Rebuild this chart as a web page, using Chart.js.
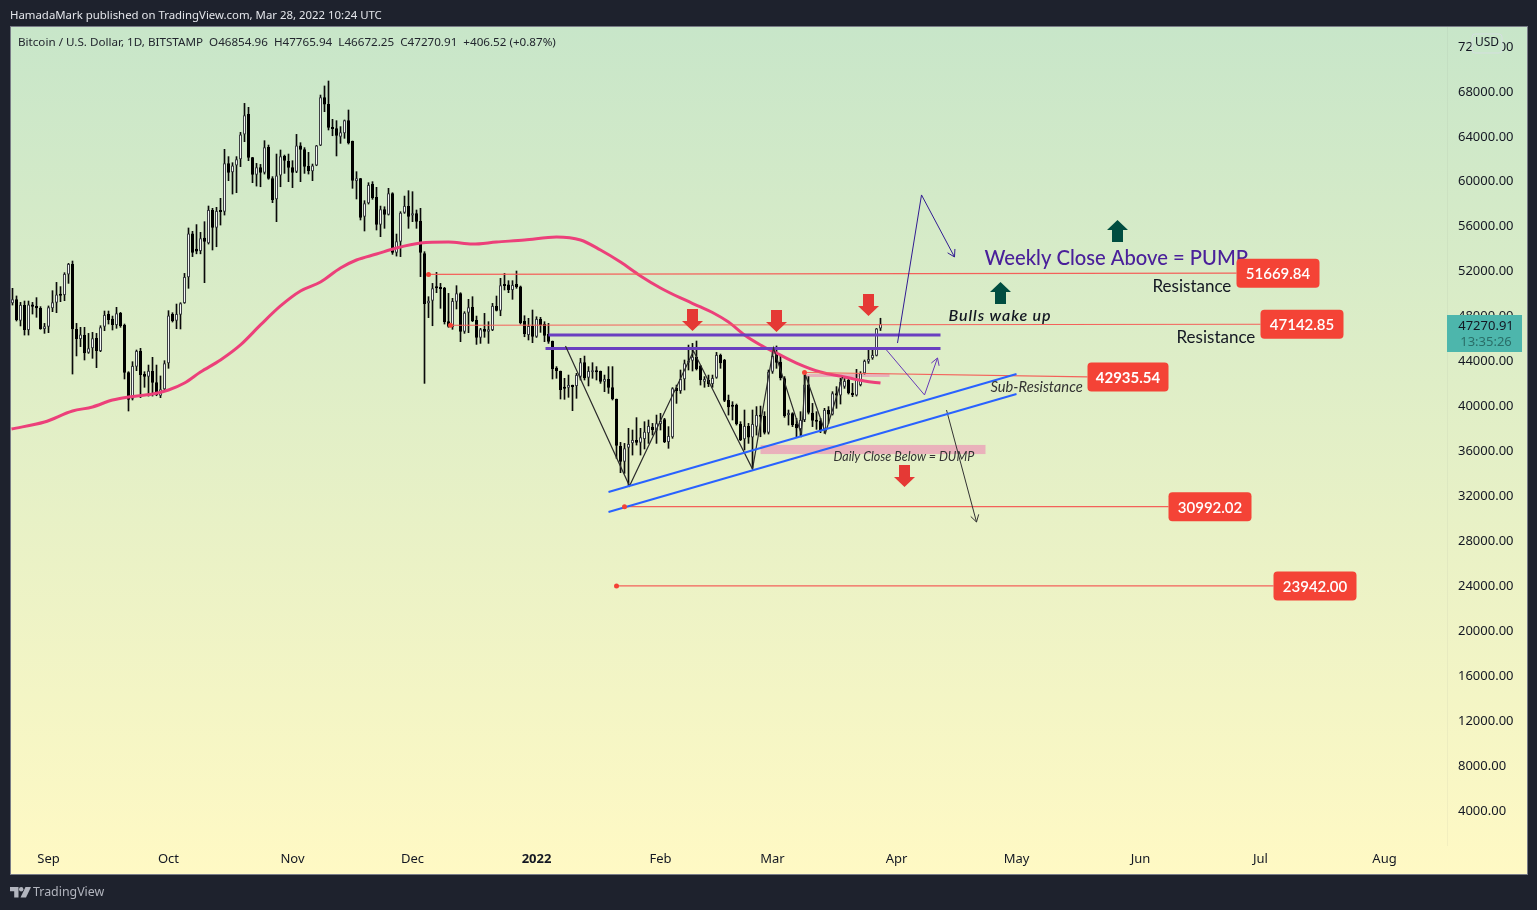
<!DOCTYPE html>
<html>
<head>
<meta charset="utf-8">
<title>BTCUSD</title>
<script src="https://cdn.jsdelivr.net/npm/chart.js@4"></script>
<style>
  html, body { margin: 0; padding: 0; background: #1e222d; }
  #wrap { position: relative; width: 1537px; height: 910px; overflow: hidden; }
  canvas { position: absolute; left: 0; top: 0; }
  .txt { position: absolute; white-space: pre; font-family: "Noto Sans", sans-serif; }
  #published { left: 10px; top: 7px; font-size: 11.4px; color: #e3e5ea; }
  #legend { left: 18px; top: 34px; font-size: 11.65px; color: #22262e; }
  #brand { left: 33px; top: 883px; font-size: 12.4px; color: #b2b5be; }
  #logo { position: absolute; left: 10px; top: 887px; }
</style>
</head>
<body>
<div id="wrap">
  <canvas id="btcChart" width="1537" height="910"></canvas>
  <div class="txt" id="published">HamadaMark published on TradingView.com, Mar 28, 2022 10:24 UTC</div>
  <div class="txt" id="legend">Bitcoin / U.S. Dollar, 1D, BITSTAMP  O46854.96  H47765.94  L46672.25  C47270.91  +406.52 (+0.87%)</div>
  <svg id="logo" width="21" height="11" viewBox="0 0 21 11"><path fill="#b2b5be" d="M0 0h8.5v10.5H4.2V4.2H0z"/><circle fill="#b2b5be" cx="11.2" cy="2.2" r="2.2"/><path fill="#b2b5be" d="M15.5 0H21l-5 10.5h-5.5z"/></svg>
  <div class="txt" id="brand">TradingView</div>
</div>
<script>
// daily candles, first one is Aug 23 2021 (day 0 = Sep 1 2021)
const firstDay = -9;

const opens = [
  49090,49450,47550,48940,46720,49000,48860,48680,46810,47020,
  48650,49150,49920,49830,51670,52590,46810,45920,46270,44700,
  45090,46010,44850,47020,48140,47730,47160,48230,47160,42950,
  40610,43460,44850,42800,42560,43070,42060,40870,41440,43750,
  48140,47550,48080,49120,51410,55300,53950,53750,54940,54430,
  57400,55830,57280,57250,61550,60750,61350,61910,64130,65940,
  62090,60540,61200,60720,63000,60220,58350,60480,62200,61760,
  61200,60810,63150,62800,61310,60840,61370,63150,67430,66830,
  64760,64670,63930,64220,65380,63540,59980,60220,56810,57990,
  59710,58560,56090,57460,56980,58880,53600,54580,57160,57755,
  56900,57100,56420,53540,49090,49330,50520,50520,50460,47490,
  46960,49240,49980,46570,48260,48770,47610,46040,46810,46570,
  46720,48860,48440,50700,50780,50280,50810,50600,47520,46270,
  47070,46120,47700,47250,46360,45740,43370,43070,41620,41590,
  41760,41740,42570,43840,42480,42950,43070,43070,42120,42360,
  41620,40580,36390,35000,36250,36630,36930,36690,37020,37520,
  38120,37760,38350,38770,36750,37170,41590,41290,42330,43810,
  43990,44350,43550,42120,42270,41910,42480,44490,44050,40490,
  40040,40040,38350,36990,38170,37160,38120,39150,39060,37580,
  43010,44490,43900,42420,39150,39300,38350,37910,38710,41880,
  39360,38710,38650,37760,39600,39210,41080,40880,41680,42270,
  41140,40900,41820,42860,43900,44200,44430,46854.96
];
const highs = [
  50430,49750,49180,49300,49300,49180,49600,48800,47310,48860,
  50220,50960,50580,51820,52650,52860,47310,46960,46960,46420,
  46510,46420,47100,48410,48410,47960,48740,48290,47250,43010,
  43900,44940,45090,43010,43600,44290,43600,42630,43990,48440,
  48260,49030,49150,51760,55800,55500,56100,55410,56360,57755,
  57550,57640,58440,62800,62150,61610,62150,64310,66890,66540,
  62090,61550,61460,63570,63180,60370,62380,62740,62290,62380,
  61790,64130,63390,62950,62530,61490,63150,67630,68440,68880,
  65470,65350,64820,65410,66300,63540,60810,60220,58230,59830,
  59920,59420,57750,57690,59330,58940,55260,57250,58640,59120,
  59030,57400,57550,53690,49685,50870,51850,50870,50520,49980,
  49540,50665,50040,48350,49450,49685,47960,46870,48200,47460,
  49090,49745,51320,51760,51110,51110,51970,50635,47990,47760,
  48500,47900,47850,47460,47310,45740,43460,43070,42420,42710,
  41820,42860,44200,44400,43460,43810,43460,43070,42710,43460,
  43460,40580,36720,36630,37970,37820,38920,37970,38560,38710,
  38410,39150,39300,38860,38120,41590,41820,43160,44050,45380,
  45530,45740,43550,42570,42710,42710,44730,44580,44110,40930,
  40340,40130,38560,39600,38410,39600,39900,39950,39450,43160,
  45090,45300,44490,42570,39600,39360,38860,39450,42710,42570,
  40190,39450,38860,39750,39900,41230,41680,42420,42570,42480,
  41970,43220,43010,44050,45030,44990,46860,47765.94
];
const lows = [
  48940,47520,47080,46270,46270,48140,47850,46780,46420,46480,
  48350,48260,49240,49330,50870,42800,44410,45240,44050,44640,
  44200,43370,44790,46660,47250,46720,46870,46960,42360,39510,
  40490,43100,40700,41620,40840,40840,40870,40700,41380,43310,
  47430,46840,46810,49090,50430,53250,53500,53500,50930,54370,
  53840,54130,56060,56950,60010,58820,58940,61260,63480,61790,
  59830,59530,59470,60600,60130,58050,56360,59470,60660,59920,
  59390,60720,59920,60660,60600,60010,61340,63130,66150,64520,
  64010,62210,63330,63780,63270,59330,58380,56510,55530,57930,
  58350,55620,55025,55770,56950,53450,53300,53250,57100,55770,
  56360,55770,51470,41970,47820,47100,50040,48650,47250,46960,
  46780,48590,45680,46420,46480,47460,45440,45530,46070,45530,
  46660,48410,47990,50280,50040,49450,50430,47250,46120,45830,
  45590,46060,46510,45680,45530,42360,42420,40580,40550,40730,
  39540,40640,42270,42270,41740,42420,42270,41970,41230,41080,
  40490,35300,34020,33960,32860,35590,36480,35590,36130,36630,
  37370,36630,37820,36690,36190,37080,40190,41080,41380,43160,
  43070,43160,41820,41620,41680,41620,42420,43310,40340,39150,
  38710,38260,36870,36040,36630,34410,37370,37220,37460,37460,
  42860,43310,42270,38950,38260,38120,37220,37220,38560,39240,
  38120,37880,37580,37520,38410,39150,39750,40130,41530,41020,
  40790,40840,41740,42800,43750,44110,44410,46672.25
];
const closes = [
  49450,47610,48940,46720,49000,48800,48650,46810,47050,48740,
  49180,49890,49770,51700,52590,46780,45920,46330,44640,45090,
  45980,44850,46960,48050,47610,47160,48200,47080,42920,40520,
  43520,44850,42710,42560,43100,42030,40930,41440,43750,48020,
  47520,48140,49090,51440,55300,53600,53700,54880,54580,57400,
  55830,57310,57220,61550,60720,61350,61910,64130,65830,62060,
  60540,61200,60720,62980,60190,58290,60480,62180,61790,61170,
  60720,63150,62770,61260,60870,61370,63150,67430,66800,64730,
  64610,64010,64310,65380,63330,60010,60220,56720,57990,59620,
  58470,56090,57460,56980,58880,53600,54610,57160,57755,56810,
  57100,56360,53600,49030,49330,50430,50430,50370,47430,47015,
  49300,49980,46570,48260,48740,47520,46040,46780,46570,46780,
  48860,48440,50700,50635,50280,50720,50520,47340,46360,47070,
  46120,47700,47160,46210,45680,43250,43070,41380,41500,41820,
  41650,42710,43840,42420,43070,43070,42950,42120,42360,41590,
  40580,36420,35000,36190,36570,36930,36690,37170,37670,38170,
  37820,38410,38650,36750,37280,41530,41290,42360,43750,43990,
  44350,43250,42270,42360,41910,42450,44490,43750,40430,39840,
  39900,38350,36930,38170,37160,38350,39150,39000,37580,43010,
  44410,43810,42420,39060,39300,38260,37970,38710,41880,39360,
  38650,38560,37760,39600,39210,41080,40880,42120,42180,41080,
  40930,42360,42860,43960,44140,44490,46860,47270.91
];

// moving average
const maDays = [-9.25,-1,6,11,16,20,26,30,34,38,43,48,53,58,63,68,73,77,82,87,93,100,106,112,119,127,133,138,143,148,153,158,163,166,170,174,178,182,187,193,199,204,208];
const maValues = [37910,38530,39510,39870,40490,40760,41020,41380,42000,42980,44050,45390,47170,48860,50190,50990,52240,52950,53480,54020,54460,54550,54370,54550,54730,55000,54730,53840,52770,51530,50460,49570,48770,48280,47430,46280,45390,44670,43780,42980,42540,42180,42000];

// axes
const priceTicks = [4000,8000,12000,16000,20000,24000,28000,32000,36000,40000,44000,48000,52000,56000,60000,64000,68000,72000];
const monthDays = [0,30,61,91,122,153,181,212,242,273,303,334];
const monthLabels = ['Sep','Oct','Nov','Dec','2022','Feb','Mar','Apr','May','Jun','Jul','Aug'];

// horizontal levels
const levelPrices = [51669.84,47142.85,42935.54,30992.02,23942.00];
const levelStartDays = [95,100.5,189,144,142];
const levelEndDays = [297,303,259.75,280,306.25];
const levelEndPrices = [51780,47230,42540,30992,23942];

// hand drawn lines
const purpleDays = [125,223];
const purpleUpper = 46275;
const purpleLowerDays = [124.25,223];
const purpleLower = 45070;
const blueDays = [140,242];
const blueUpper = [32300,42800];
const blueLower = [30520,41020];
const zigzagDays = [129.25,145.25,161.25,176,181.25,188.25,189.25,194.25,198.5];
const zigzagPrices = [45300,32840,44850,34350,45120,37380,42720,37550,42540];
const pumpDays = [212.25,218.25,226.5];
const pumpPrices = [45560,58740,53220];
const retestDays = [209.5,219,222.25];
const retestPrices = [44940,40940,44230];
const dumpDays = [224.5,232];
const dumpPrices = [39600,29630];

// shaded zones: day from, day to, price low, price high
const zoneDaysFrom = [178,189.5];
const zoneDaysTo = [234.25,210.25];
const zoneLows = [35680,42540];
const zoneHighs = [36490,42800];

// block arrows
const redArrowDays = [161,182,205,214];
const redArrowTips = [46630,46540,47970,32750];
const greenArrowDays = [267.25,238];
const greenArrowTips = [56510,50990];

// text notes
const noteTexts = ['Weekly Close Above = PUMP','Resistance','Resistance','Bulls wake up','Sub-Resistance','Daily Close Below = DUMP'];
const noteDays = [234,276,282,225,235.5,196.25];
const notePrices = [53050,50550,46010,47970,41600,35420];
const noteFonts = ['500 20.2px Lato','17px Lato','17px Lato','italic 600 16px Lato','italic 14.7px Lato','italic 12.5px Lato'];
const noteSpacing = ['0px','0px','0px','0.9px','0px','0px'];
const noteColors = ['#4a209a','#131722','#131722','#131722','#333','#333'];

const lastPrice = '47270.91';
const countdown = '13:35:26';

const candleDays = opens.map((o, i) => firstDay + i);

function lineSet(days, prices, color, width, order) {
    return {
        type: 'line',
        data: days.map((d, i) => ({ x: d, y: prices[i] })),
        borderColor: color,
        borderWidth: width,
        pointRadius: 0,
        tension: 0,
        order: order
    };
}

const wickSet = {
    type: 'bar',
    data: candleDays.map((d, i) => ({ x: d, y: [lows[i], highs[i]] })),
    backgroundColor: '#0a0a0a',
    barThickness: 1,
    grouped: false,
    order: 11
};
const bodySet = {
    type: 'bar',
    data: candleDays.map((d, i) => ({ x: d, y: [Math.min(opens[i], closes[i]), Math.max(opens[i], closes[i])] })),
    backgroundColor: candleDays.map((d, i) => closes[i] >= opens[i] ? '#f4f6f4' : '#000'),
    borderColor: candleDays.map((d, i) => closes[i] >= opens[i] ? '#3c3f44' : '#000'),
    borderWidth: 1,
    borderSkipped: false,
    inflateAmount: 0,
    minBarLength: 2,
    barThickness: 3,
    grouped: false,
    order: 10
};
const maSet = lineSet(maDays, maValues, '#ec407a', 3, 5);
maSet.cubicInterpolationMode = 'monotone';

const datasets = [wickSet, bodySet, maSet];
levelPrices.forEach((p, i) => {
    datasets.push(lineSet([levelStartDays[i], levelEndDays[i]], [p, levelEndPrices[i]], '#f4615a', 1.2, 4));
});
datasets.push(lineSet(purpleDays, [purpleUpper, purpleUpper], '#6a3fc0', 3, 4));
datasets.push(lineSet(purpleLowerDays, [purpleLower, purpleLower], '#6a3fc0', 3, 4));
datasets.push(lineSet(blueDays, blueUpper, '#2962ff', 2, 3));
datasets.push(lineSet(blueDays, blueLower, '#2962ff', 2, 3));
datasets.push(lineSet(zigzagDays, zigzagPrices, '#2b2b2b', 1.2, 3));
datasets.push(lineSet(pumpDays, pumpPrices, '#311b92', 1, 3));
datasets.push(lineSet(retestDays, retestPrices, '#673ab7', 1, 3));
datasets.push(lineSet(dumpDays, dumpPrices, '#333', 1, 3));

// red dots at the start of the levels
datasets.push({
    type: 'line',
    data: levelStartDays.map((d, i) => ({ x: d, y: levelPrices[i] })),
    showLine: false,
    pointRadius: 2.5,
    pointBackgroundColor: '#f44336',
    pointBorderWidth: 0,
    order: 2
});

// background box behind everything
const boxPlugin = {
    id: 'box',
    beforeDraw(chart) {
        const ctx = chart.ctx;
        ctx.save();
        ctx.fillStyle = '#1e222d';
        ctx.fillRect(0, 0, chart.width, chart.height);
        const grad = ctx.createLinearGradient(0, 27, 0, 875);
        grad.addColorStop(0, '#c8e6c9');
        grad.addColorStop(1, '#fff9c4');
        ctx.fillStyle = grad;
        ctx.fillRect(11, 27, 1516, 847);
        ctx.strokeStyle = '#787b86';
        ctx.lineWidth = 1;
        ctx.strokeRect(10.5, 26.5, 1517, 848);
        ctx.restore();
    },
    beforeDatasetsDraw(chart) {
        const ctx = chart.ctx;
        const x = chart.scales.x, y = chart.scales.y;
        ctx.save();
        ctx.fillStyle = 'rgba(240,115,175,0.5)';
        zoneLows.forEach((low, i) => {
            const left = x.getPixelForValue(zoneDaysFrom[i]);
            const top = y.getPixelForValue(zoneHighs[i]);
            ctx.fillRect(left, top, x.getPixelForValue(zoneDaysTo[i]) - left, y.getPixelForValue(low) - top);
        });
        ctx.restore();
    }
};

function arrowHead(ctx, x, y, days, prices, color) {
    const n = days.length - 1;
    const x1 = x.getPixelForValue(days[n]), y1 = y.getPixelForValue(prices[n]);
    const a = Math.atan2(y1 - y.getPixelForValue(prices[n - 1]), x1 - x.getPixelForValue(days[n - 1]));
    ctx.strokeStyle = color;
    ctx.lineWidth = 1;
    ctx.beginPath();
    ctx.moveTo(x1 + 8 * Math.cos(a + 2.6), y1 + 8 * Math.sin(a + 2.6));
    ctx.lineTo(x1, y1);
    ctx.lineTo(x1 + 8 * Math.cos(a - 2.6), y1 + 8 * Math.sin(a - 2.6));
    ctx.stroke();
}

// dir 1 = points down, -1 = points up
function blockArrow(ctx, cx, tip, dir, color) {
    ctx.fillStyle = color;
    ctx.beginPath();
    ctx.moveTo(cx, tip);
    ctx.lineTo(cx + 10.5, tip - dir * 10);
    ctx.lineTo(cx + 5.5, tip - dir * 10);
    ctx.lineTo(cx + 5.5, tip - dir * 22);
    ctx.lineTo(cx - 5.5, tip - dir * 22);
    ctx.lineTo(cx - 5.5, tip - dir * 10);
    ctx.lineTo(cx - 10.5, tip - dir * 10);
    ctx.closePath();
    ctx.fill();
}

const notesPlugin = {
    id: 'notes',
    afterDatasetsDraw(chart) {
        const ctx = chart.ctx;
        const x = chart.scales.x, y = chart.scales.y;
        ctx.save();

        arrowHead(ctx, x, y, pumpDays, pumpPrices, '#311b92');
        arrowHead(ctx, x, y, retestDays, retestPrices, '#673ab7');
        arrowHead(ctx, x, y, dumpDays, dumpPrices, '#333');

        redArrowDays.forEach((d, i) => blockArrow(ctx, x.getPixelForValue(d), y.getPixelForValue(redArrowTips[i]), 1, '#e53935'));
        greenArrowDays.forEach((d, i) => blockArrow(ctx, x.getPixelForValue(d), y.getPixelForValue(greenArrowTips[i]), -1, '#004d40'));

        ctx.textBaseline = 'middle';
        ctx.textAlign = 'left';
        noteTexts.forEach((t, i) => {
            ctx.font = noteFonts[i];
            ctx.letterSpacing = noteSpacing[i];
            ctx.fillStyle = noteColors[i];
            ctx.fillText(t, x.getPixelForValue(noteDays[i]), y.getPixelForValue(notePrices[i]));
        });
        ctx.letterSpacing = '0px';

        // red price labels at the end of the levels
        ctx.textAlign = 'center';
        levelPrices.forEach((p, i) => {
            const left = x.getPixelForValue(levelEndDays[i]);
            const mid = y.getPixelForValue(levelEndPrices[i]);
            const w = i === 2 ? 81 : 83;
            ctx.fillStyle = '#f44336';
            ctx.beginPath();
            ctx.roundRect(left, mid - 14.5, w, 29, 4);
            ctx.fill();
            ctx.fillStyle = '#fff';
            ctx.font = (i === 2 ? '700 ' : '600 ') + '15px Lato';
            ctx.fillText(p.toFixed(2), left + w / 2, mid + 1);
        });

        // USD button and last price tag on the price scale
        ctx.fillStyle = '#c9e7ca';
        ctx.strokeStyle = '#d5dfe0';
        ctx.beginPath();
        ctx.roundRect(1472, 34, 30, 19, 3);
        ctx.fill();
        ctx.stroke();
        ctx.fillStyle = '#131722';
        ctx.font = '12px "Noto Sans"';
        ctx.fillText('USD', 1487, 43);

        ctx.fillStyle = '#4db6ac';
        ctx.fillRect(1447, 315, 75, 37);
        ctx.fillStyle = '#131722';
        ctx.font = '13px "Noto Sans"';
        ctx.fillText(lastPrice, 1486, 326);
        ctx.fillStyle = '#2a6e68';
        ctx.fillText(countdown, 1486, 342);
        ctx.restore();
    }
};

new Chart(document.getElementById('btcChart'), {
    type: 'bar',
    data: { datasets: datasets },
    plugins: [boxPlugin, notesPlugin],
    options: {
        responsive: false,
        animation: false,
        layout: { padding: { left: 11, top: 27, right: 9, bottom: 35 } },
        plugins: { legend: { display: false }, tooltip: { enabled: false } },
        scales: {
            x: {
                type: 'linear',
                offset: false,
                min: -9.375,
                max: 349.625,
                grid: { display: false, drawTicks: false },
                border: { display: false },
                afterFit(scale) { scale.height = 30; },
                afterBuildTicks(scale) { scale.ticks = monthDays.map(d => ({ value: d })); },
                ticks: {
                    autoSkip: false,
                    maxRotation: 0,
                    padding: 6,
                    color: '#131722',
                    font: ctx => ({
                        family: '"Noto Sans"',
                        size: 13,
                        weight: ctx.tick && monthLabels[monthDays.indexOf(ctx.tick.value)] === '2022' ? 'bold' : 'normal'
                    }),
                    callback: value => monthLabels[monthDays.indexOf(value)]
                }
            },
            y: {
                position: 'right',
                min: 885,
                max: 73687,
                grid: { display: false, drawTicks: false },
                border: { display: true, color: 'rgba(120,120,120,0.07)' },
                afterFit(scale) { scale.width = 81; },
                afterBuildTicks(scale) { scale.ticks = priceTicks.map(v => ({ value: v })); },
                ticks: {
                    padding: 11,
                    labelOffset: 1,
                    color: '#131722',
                    font: { family: '"Noto Sans"', size: 13 },
                    callback: value => value.toFixed(2)
                }
            }
        }
    }
});
</script>
</body>
</html>
